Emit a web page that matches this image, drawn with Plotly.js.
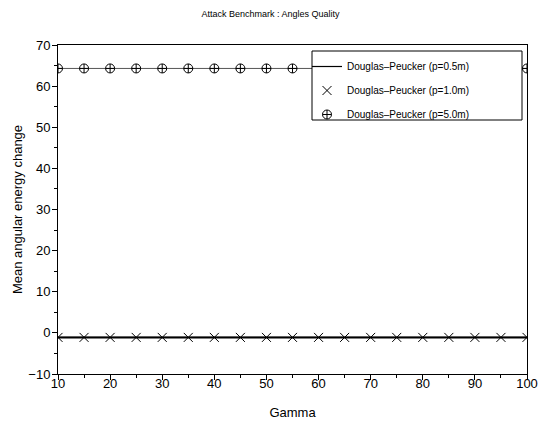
<!DOCTYPE html>
<html><head><meta charset="utf-8">
<script src="https://cdn.plot.ly/plotly-3.0.1.min.js"></script>
<style>html,body{margin:0;padding:0;background:#fff}#c{width:541px;height:423px}</style>
</head><body><div id="c"></div>
<script>
const gamma = [10,15,20,25,30,35,40,45,50,55,60,65,70,75,80,85,90,95,100];
const dp05 = [-1.1,-1.1,-1.1,-1.1,-1.1,-1.1,-1.1,-1.1,-1.1,-1.1,-1.1,-1.1,-1.1,-1.1,-1.1,-1.1,-1.1,-1.1,-1.1];
const dp10 = [-1.1,-1.1,-1.1,-1.1,-1.1,-1.1,-1.1,-1.1,-1.1,-1.1,-1.1,-1.1,-1.1,-1.1,-1.1,-1.1,-1.1,-1.1,-1.1];
const dp50 = [64.3,64.3,64.3,64.3,64.3,64.3,64.3,64.3,64.3,64.3,64.3,64.3,64.3,64.3,64.3,64.3,64.3,64.3,64.3];
const names = ["Douglas\u2013Peucker (p=0.5m)","Douglas\u2013Peucker (p=1.0m)","Douglas\u2013Peucker (p=5.0m)"];

const traces = [
  {x: gamma, y: dp05, mode: 'lines', name: names[0], line: {color: '#000', width: 1.2}, legendgroup: 'a'},
  {x: gamma, y: dp10, mode: 'lines', showlegend: false, line: {color: '#000', width: 2}, hoverinfo: 'skip'},
  {x: gamma, y: dp10, mode: 'markers', name: names[1], legendgroup: 'b',
   marker: {symbol: 'x-thin-open', size: 9, color: '#000', line: {color: '#000', width: 1}}},
  {x: gamma, y: dp50, mode: 'lines', showlegend: false, line: {color: '#555', width: 1}, hoverinfo: 'skip'},
  {x: gamma, y: dp50, mode: 'markers', name: names[2], legendgroup: 'c',
   marker: {symbol: 'circle-cross-open', size: 9, color: '#000', line: {color: '#000', width: 1}}}
];

const W = 469, H = 329, L = 58, T = 45;
const layout = {
  width: 541, height: 423,
  margin: {l: 58, r: 14, t: 45, b: 49},
  paper_bgcolor: '#fff', plot_bgcolor: '#fff',
  font: {family: 'Liberation Sans, Arial, sans-serif', color: '#000'},
  title: {text: 'Attack Benchmark : Angles Quality', font: {size: 9}, x: 0.5, xanchor: 'center', y: 0.967, yanchor: 'middle'},
  xaxis: {
    range: [10, 100], tickmode: 'linear', tick0: 10, dtick: 10,
    ticks: 'outside', ticklen: 5, tickwidth: 1, tickcolor: '#000',
    minor: {dtick: 5, ticks: 'outside', ticklen: 3, tickcolor: '#000'},
    showline: true, linecolor: '#000', linewidth: 1, mirror: true,
    showgrid: false, zeroline: false, tickfont: {size: 13}, ticklabelstandoff: -8,
    title: {text: 'Gamma', font: {size: 13}, standoff: 18}
  },
  yaxis: {
    range: [-10, 70], tickmode: 'linear', tick0: -10, dtick: 10,
    ticks: 'outside', ticklen: 5, tickwidth: 1, tickcolor: '#000',
    minor: {dtick: 5, ticks: 'outside', ticklen: 3, tickcolor: '#000'},
    showline: true, linecolor: '#000', linewidth: 1, mirror: true,
    showgrid: false, zeroline: false, tickfont: {size: 13}, ticklabelstandoff: -1,
    title: {text: 'Mean angular energy change', font: {size: 13}, standoff: 2}
  },
  shapes: [{type: 'rect', xref: 'paper', yref: 'paper', layer: 'above',
    x0: (312 - L) / W, x1: (522 - L) / W, y0: 1 - (120 - T) / H, y1: 1 - (51 - T) / H,
    line: {color: '#000', width: 1}, fillcolor: '#fff'}],
  legend: {
    x: (307 - L) / W, y: 1 - (52 - T) / H, xanchor: 'left', yanchor: 'top',
    bgcolor: 'rgba(0,0,0,0)', borderwidth: 0,
    font: {size: 10}, traceorder: 'grouped', tracegroupgap: 5,
    itemwidth: 30
  },
  showlegend: true
};

Plotly.newPlot('c', traces, layout, {staticPlot: true, displayModeBar: false});
</script></body></html>
